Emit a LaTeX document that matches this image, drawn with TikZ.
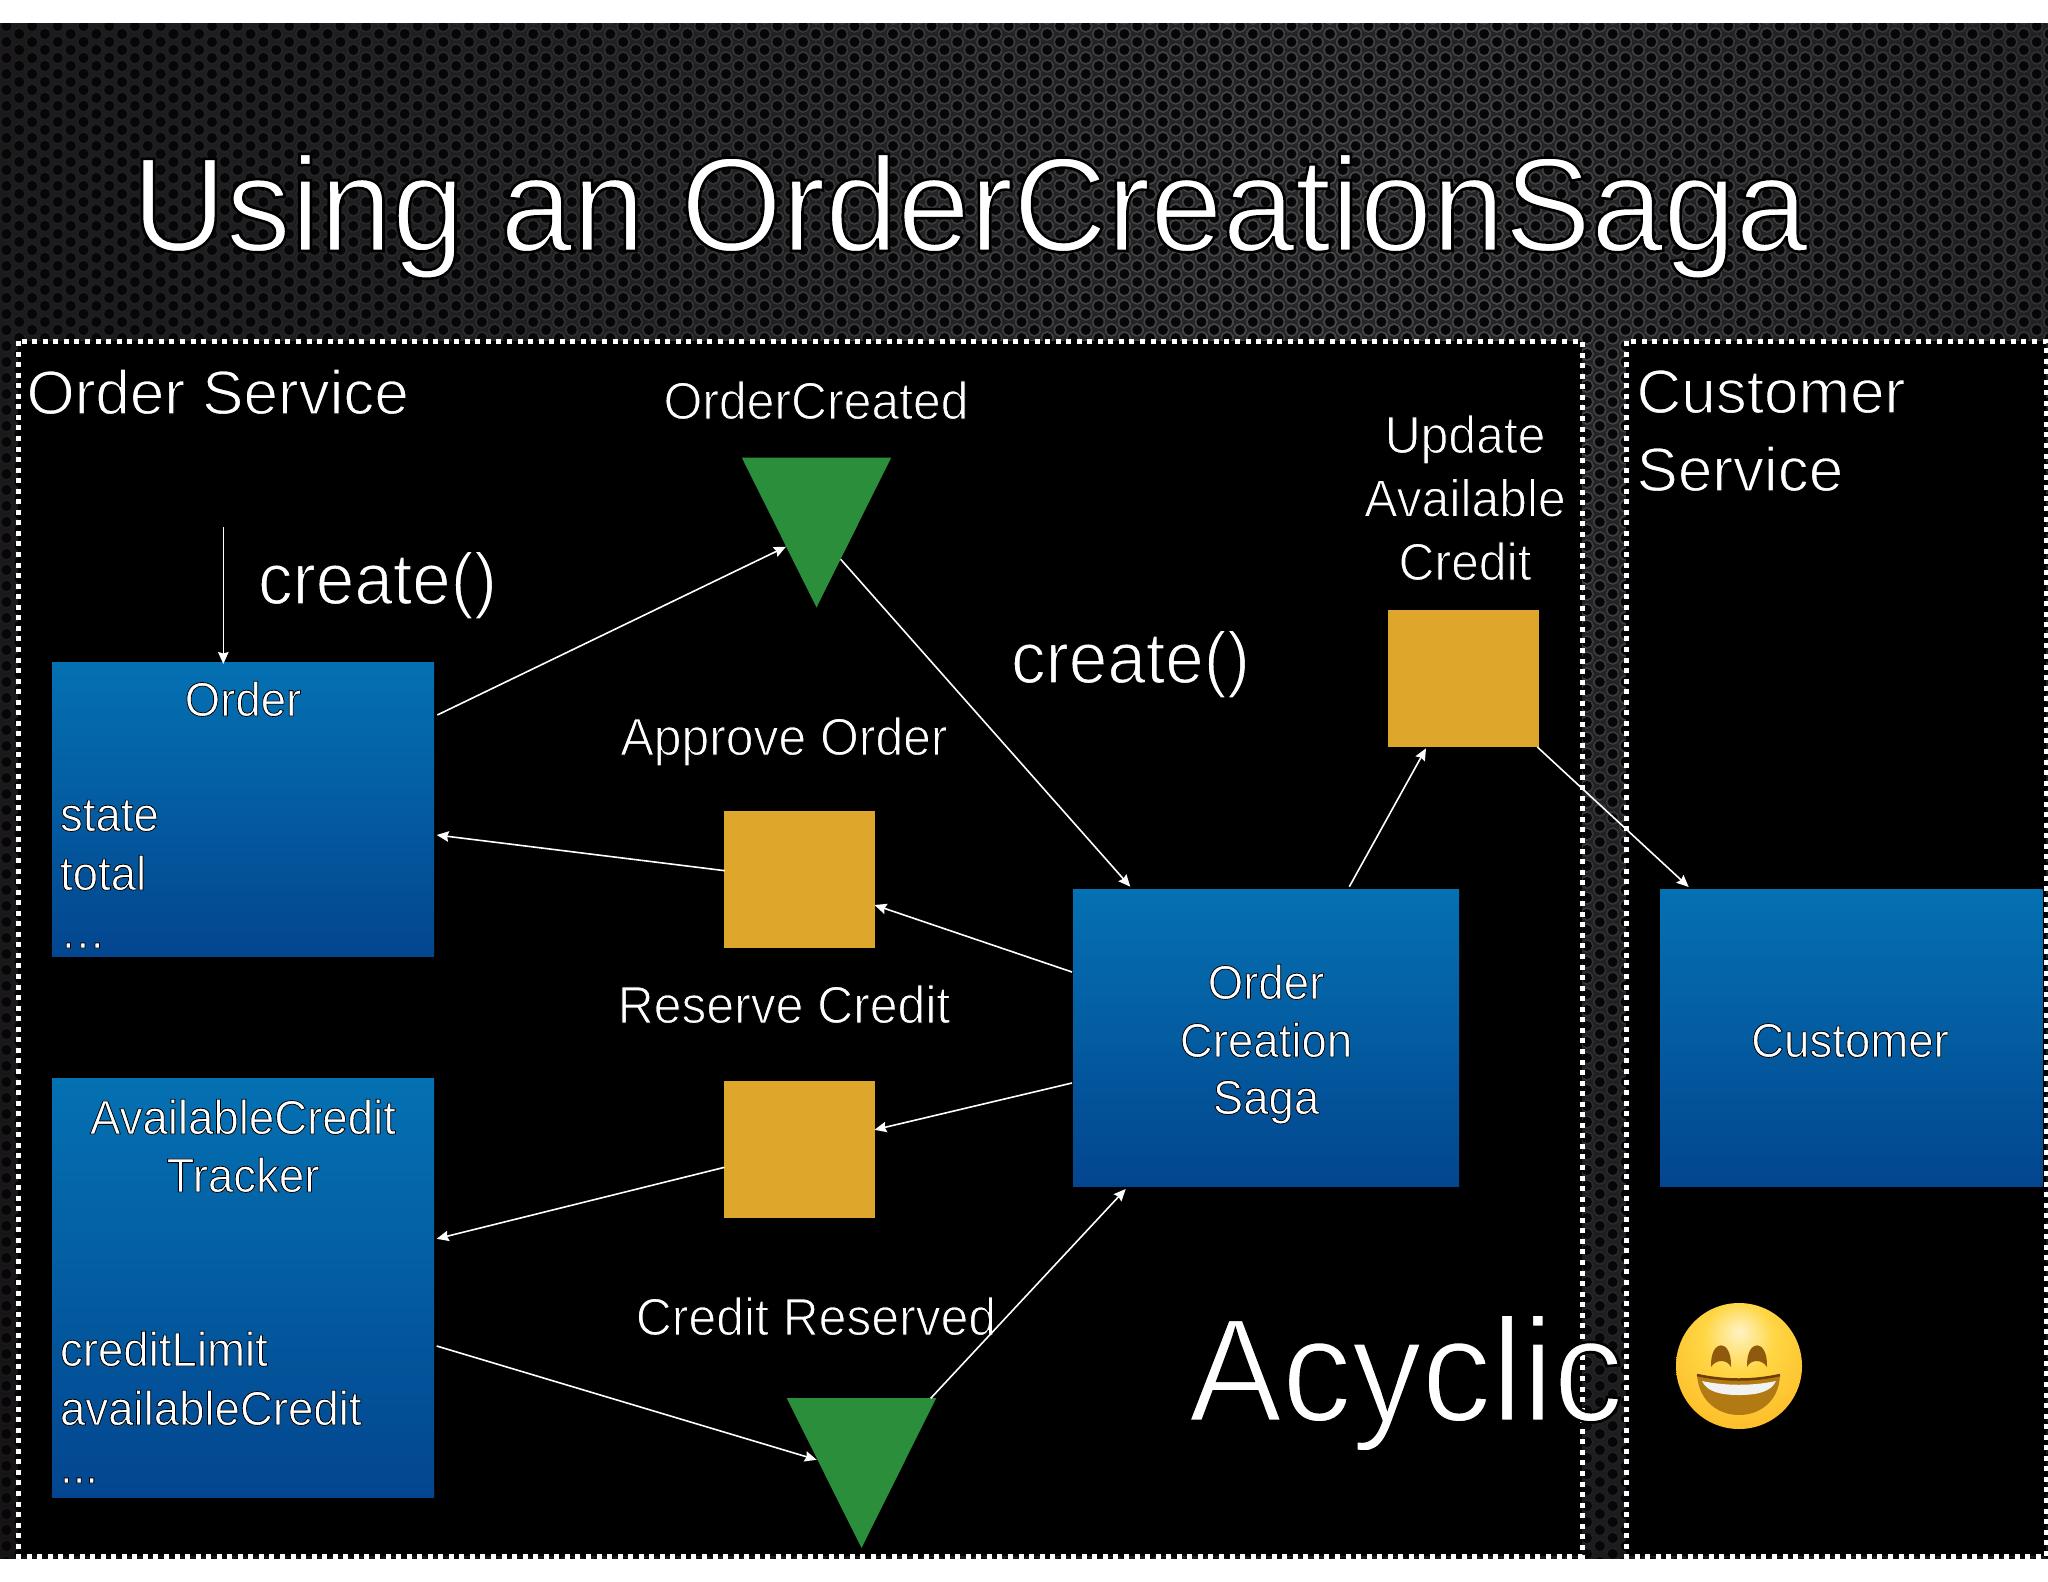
\documentclass[tikz,border=0pt]{standalone}
\usepackage{fontspec}
\setmainfont{Liberation Sans}[FakeStretch=0.95]
\newfontfamily\titlefam{Liberation Sans}[FakeStretch=0.97]
\newfontfamily\svcfam{Liberation Sans}[FakeStretch=1.0]
\usetikzlibrary{arrows.meta,shapes.geometric,calc,patterns}
\definecolor{glowa}{HTML}{262629}
\definecolor{glowb}{HTML}{1C1B1D}
\definecolor{glowc}{HTML}{0D0A0A}
\definecolor{holec}{HTML}{060507}
\definecolor{blueT}{HTML}{0471B2}
\definecolor{blueB}{HTML}{03468F}
\definecolor{gold}{HTML}{DFA62C}
\definecolor{tgreen}{HTML}{2B8E3A}
\definecolor{emA}{HTML}{FFF3C4}
\definecolor{emB}{HTML}{FFD644}
\definecolor{emC}{HTML}{FDB520}
\definecolor{emD}{HTML}{EE9410}
\definecolor{emBrown}{HTML}{8F5A0E}
\definecolor{emLip}{HTML}{6E3C06}
\definecolor{emMouth}{HTML}{B27A12}
\pgfdeclareradialshading{bgglow}{\pgfpoint{0bp}{0bp}}{color(0bp)=(glowa); color(16.4bp)=(glowb); color(32.9bp)=(glowc); color(50bp)=(glowc)}
\pgfdeclareradialshading{emoface}{\pgfpoint{0bp}{14bp}}{color(0bp)=(emA); color(14bp)=(emB); color(40bp)=(emC); color(50bp)=(emD); color(70bp)=(emD)}
\pgfdeclarepatternformonly{hexring}{\pgfqpoint{-1pt}{-3.5pt}}{\pgfqpoint{27pt}{19.5pt}}{\pgfqpoint{25.7pt}{16pt}}{%
  \pgfpathcircle{\pgfqpoint{6.4pt}{4pt}}{6.9pt}\pgfusepath{fill}%
  \pgfpathcircle{\pgfqpoint{19.25pt}{12pt}}{6.9pt}\pgfusepath{fill}}
\pgfdeclarepatternformonly{hexhole}{\pgfqpoint{0pt}{-2pt}}{\pgfqpoint{25.7pt}{17.5pt}}{\pgfqpoint{25.7pt}{16pt}}{%
  \pgfpathcircle{\pgfqpoint{6.4pt}{4pt}}{5pt}\pgfusepath{fill}%
  \pgfpathcircle{\pgfqpoint{19.25pt}{12pt}}{5pt}\pgfusepath{fill}}
\newcommand\lighter[2]{\special{pdf:code 2 Tr 0 0 0 RG #1 w}#2\special{pdf:code 0 Tr}}
\tikzset{
  bluebox/.style={rectangle,anchor=north west,inner sep=0pt,outer sep=0pt,top color=blueT,bottom color=blueB},
  goldbox/.style={rectangle,anchor=north west,inner sep=0pt,outer sep=0pt,fill=gold,minimum width=150.5pt,minimum height=137pt},
  eventtri/.style={isosceles triangle,isosceles triangle stretches,shape border rotate=270,anchor=apex,fill=tgreen,inner sep=0pt,outer sep=0pt,minimum width=149.5pt,minimum height=150pt},
  panel/.style={fill=black,draw=white,line width=5pt,dash pattern=on 5pt off 5.55pt},
  conn/.style={draw=white,line width=1.6pt,-{Stealth[length=12pt,width=10.5pt,inset=1.5pt]}},
  lbase/.style={inner sep=0pt,outer sep=0pt,text=white},
  titlefont/.style={lbase,anchor=base west,font=\titlefam\fontsize{134}{150}\selectfont},
  bigfont/.style={lbase,anchor=base,font=\fontsize{147}{160}\selectfont},
  callfont/.style={lbase,anchor=base west,font=\fontsize{73}{80}\selectfont},
  svcfont/.style={lbase,anchor=base west,align=left,font=\svcfam\fontsize{62}{78}\selectfont},
  msgfont/.style={lbase,anchor=base,align=center,font=\fontsize{52.5}{64}\selectfont},
  boxfont/.style={lbase,anchor=base,align=center,font=\fontsize{48}{58}\selectfont},
  fieldfont/.style={lbase,anchor=base west,align=left,font=\fontsize{48}{59}\selectfont},
}
\begin{document}
\begin{tikzpicture}[x=1pt,y=-1pt]
\useasboundingbox (0,0) rectangle (2048,1582);
\fill[white] (0,0) rectangle (2048,1582);
\begin{scope}
  \clip (0,23) rectangle (2048,1558);
  \fill[glowc] (0,23) rectangle (2048,1558);
  \shade[shading=bgglow] (1350,300) circle (1900);
  \fill[pattern=hexring,pattern color=white,fill opacity=0.0125] (0,23) rectangle (2048,1558);
  \foreach \k in {1,...,15}{
    \pgfmathsetmacro\kr{1250-\k*72}
    \fill[pattern=hexring,pattern color=white,fill opacity=0.0125] (1350,300) circle (\kr);
  }
  \fill[pattern=hexhole,pattern color=holec] (0,23) rectangle (2048,1558);
\end{scope}
\path[panel] (18,341) rectangle (1582,1556);
\path[panel] (1626,341) rectangle (2046,1556);

\node[bluebox,minimum width=382pt,minimum height=294pt] (order) at (52,662) {};
\node[bluebox,minimum width=382pt,minimum height=419pt] (avail) at (52,1078) {};
\node[bluebox,minimum width=386pt,minimum height=297pt] (saga) at (1073,889) {};
\node[bluebox,minimum width=382.5pt,minimum height=297pt] (cust) at (1660,889) {};
\node[goldbox] (approve) at (724,811) {};
\node[goldbox] (reserve) at (724,1080.5) {};
\node[goldbox] (update) at (1388,610) {};
\node[eventtri] (oc) at (816.5,607.5) {};
\node[eventtri] (cr) at (861.5,1548) {};

\node[titlefont] (title) at (132,251) {\lighter{2.6}{Using an OrderCreationSaga}};
\node[svcfont] (ordersvc) at (26.5,414) {\lighter{1.2}{Order Service}};
\node[svcfont] (custsvc1) at (1636.5,413) {\lighter{1.2}{Customer}};
\node[svcfont] (custsvc2) at (1636.5,491) {\lighter{1.2}{Service}};
\node[msgfont] (ocl) at (816,419) {\lighter{1}{OrderCreated}};
\node[msgfont] (aol) at (784,755) {\lighter{1}{Approve Order}};
\node[msgfont] (rcl) at (784,1023) {\lighter{1}{Reserve Credit}};
\node[msgfont] (crl) at (816,1335) {\lighter{1}{Credit Reserved}};
\node[msgfont] (ua1) at (1465,453) {\lighter{1}{Update}};
\node[msgfont] (ua2) at (1465,516.5) {\lighter{1}{Available}};
\node[msgfont] (ua3) at (1465,580) {\lighter{1}{Credit}};
\node[callfont] (call1) at (258,604) {\lighter{1.4}{create()}};
\node[callfont] (call2) at (1011,683) {\lighter{1.4}{create()}};
\node[boxfont] (ol) at (243,716) {\lighter{.8}{Order}};
\node[fieldfont] (of1) at (60,831) {\lighter{.8}{state}};
\node[fieldfont] (of2) at (60,890) {\lighter{.8}{total}};
\node[fieldfont] (of3) at (60,948) {\lighter{.8}{…}};
\node[boxfont] (al1) at (243,1134) {\lighter{.8}{AvailableCredit}};
\node[boxfont] (al2) at (243,1192) {\lighter{.8}{Tracker}};
\node[fieldfont] (af1) at (60,1366) {\lighter{.8}{creditLimit}};
\node[fieldfont] (af2) at (60,1425) {\lighter{.8}{availableCredit}};
\node[fieldfont] (af3) at (60,1483) {\lighter{.8}{...}};
\node[boxfont] (s1) at (1266,999) {\lighter{.8}{Order}};
\node[boxfont] (s2) at (1266,1057) {\lighter{.8}{Creation}};
\node[boxfont] (s3) at (1266,1114) {\lighter{.8}{Saga}};
\node[boxfont] (cl) at (1850,1057) {\lighter{.8}{Customer}};
\node[bigfont] (acyclic) at (1406,1421) {\lighter{2.6}{Acyclic}};

\coordinate (entry) at (223.3,527);
\draw[conn] (entry) -- ([shift={(-19.7,2)}]order.north);
\draw[conn] ([shift={(3.3,-94)}]order.east) -- ([shift={(-30.5,-60.8)}]oc.apex);
\draw[conn] ([shift={(24.2,-48.2)}]oc.apex) -- ([shift={(57.3,-2.3)}]saga.north west);
\draw[conn] ([shift={(276.3,-2.3)}]saga.north west) -- ([shift={(38,1.3)}]update.south west);
\draw[conn] ([shift={(-1.2,0)}]update.south east) -- ([shift={(28.7,-2)}]cust.north west);
\draw[conn] ([shift={(1,59.7)}]approve.north west) -- ([shift={(2.7,26)}]order.east);
\draw[conn] ([shift={(-1,-65.5)}]saga.west) -- ([shift={(0,25.5)}]approve.east);
\draw[conn] ([shift={(-1,45.5)}]saga.west) -- ([shift={(0,-19.2)}]reserve.east);
\draw[conn] ([shift={(.5,18.3)}]reserve.west) -- ([shift={(2.7,-48.7)}]avail.east);
\draw[conn] ([shift={(2.7,58.5)}]avail.east) -- ([shift={(-44.8,-88.2)}]cr.apex);
\draw[conn] ([shift={(69.2,-149.7)}]cr.apex) -- ([shift={(52.7,3)}]saga.south west);

\begin{scope}[shift={(1739,1366)}]
  \path[shading=emoface] (0,0) circle (63);
  \fill[emBrown] (-28,1) .. controls (-29,-28) and (-7,-28) .. (-8,1) .. controls (-12,-7) and (-23,-7) .. cycle;
  \fill[emBrown] (8,1) .. controls (7,-28) and (29,-28) .. (28,1) .. controls (23,-7) and (12,-7) .. cycle;
  \fill[emMouth] (-42,9) .. controls (-14,15) and (14,15) .. (41,9) .. controls (40,36) and (20,49) .. (0,49) .. controls (-20,49) and (-40,36) .. (-42,9) -- cycle;
  \fill[white!90!gray] (-37,15) .. controls (-14,20) and (14,20) .. (37,15) .. controls (32,26) and (18,29) .. (0,29) .. controls (-18,29) and (-32,26) .. (-37,15) -- cycle;
  \draw[emLip,line width=2.5pt] (-42,9) .. controls (-14,15) and (14,15) .. (41,9);
\end{scope}
\end{tikzpicture}
\end{document}
